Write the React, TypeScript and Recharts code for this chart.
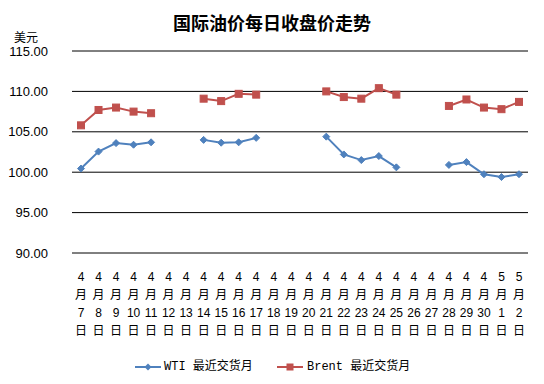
import React from 'react';
import { LineChart, Line, XAxis, YAxis, CartesianGrid } from 'recharts';

const months = ['4','4','4','4','4','4','4','4','4','4','4','4','4','4','4','4','4','4','4','4','4','4','4','4','5','5'];
const days = ['7','8','9','10','11','12','13','14','15','16','17','18','19','20','21','22','23','24','25','26','27','28','29','30','1','2'];
const wti: (number | null)[] = [100.45, 102.55, 103.6, 103.4, 103.7, null, null, 104.0, 103.65, 103.7, 104.25, null, null, null, 104.4, 102.2, 101.5, 102.0, 100.6, null, null, 100.9, 101.25, 99.75, 99.4, 99.75];
const brent: (number | null)[] = [105.8, 107.7, 108.0, 107.5, 107.3, null, null, 109.1, 108.8, 109.7, 109.6, null, null, null, 110.0, 109.3, 109.1, 110.4, 109.6, null, null, 108.2, 109.0, 108.0, 107.8, 108.7];
const yTicks = [90, 95, 100, 105, 110, 115];

const data = days.map((d, i) => ({
  name: `${months[i]}月${d}日`,
  m: months[i],
  d,
  wti: wti[i],
  brent: brent[i],
}));

const XTick = (props: any) => {
  const { x, y, payload } = props;
  const item = data[payload.index] || data.find((r) => r.name === payload.value);
  const lines = [item?.m ?? '', '月', item?.d ?? '', '日'];
  return (
    <g transform={`translate(${x},${y})`}>
      {lines.map((t, i) => (
        <text key={i} x={0} y={18 + i * 18} textAnchor="middle" dominantBaseline="central" fontSize={12} fill="#000" fontFamily="'Liberation Sans', 'Noto Sans CJK SC', sans-serif">
          {t}
        </text>
      ))}
    </g>
  );
};

const Diamond = (props: any) => {
  const { cx, cy } = props;
  if (cx == null || cy == null || props.value == null) return null;
  const s = 3.5;
  return <path d={`M${cx},${cy - s}L${cx + s},${cy}L${cx},${cy + s}L${cx - s},${cy}Z`} fill="#4F81BD" stroke="#4F81BD" />;
};

const Square = (props: any) => {
  const { cx, cy } = props;
  if (cx == null || cy == null || props.value == null) return null;
  const s = 3.5;
  return <rect x={cx - s} y={cy - s} width={2 * s} height={2 * s} fill="#C0504D" stroke="#C0504D" />;
};

export default function App() {
  return (
    <div style={{ position: 'absolute', left: 0, top: 0, width: 544, height: 384, background: '#fff', fontFamily: "'Liberation Sans', 'Noto Sans CJK SC', sans-serif" }}>
      <div style={{ position: 'absolute', left: 0, width: 544, top: 11, textAlign: 'center', fontSize: 18, fontWeight: 'bold', lineHeight: '22px', fontFamily: "'Noto Sans CJK SC', sans-serif" }}>
        国际油价每日收盘价走势
      </div>
      <div style={{ position: 'absolute', left: 14, top: 29, fontSize: 12, lineHeight: '16px', fontFamily: "'Noto Sans CJK SC', sans-serif" }}>美元</div>
      <LineChart width={544} height={384} data={data} margin={{ top: 51, right: 16, left: 0, bottom: 121 }}>
        <CartesianGrid vertical={false} stroke="#000" strokeWidth={1} />
        <XAxis dataKey="name" axisLine={false} tickLine={false} interval={0} height={10} tick={<XTick />} tickMargin={0} padding={{ left: 9, right: 9 }} />
        <YAxis domain={[90, 115]} ticks={yTicks} width={72} axisLine={false} tickLine={false} tickMargin={18} tickFormatter={(v: number) => v.toFixed(2)} tick={{ fontSize: 13, fill: '#000', fontFamily: "'Liberation Sans', sans-serif" }} />
        <Line type="linear" dataKey="wti" stroke="#4F81BD" strokeWidth={2} dot={<Diamond />} activeDot={false} isAnimationActive={false} connectNulls={false} />
        <Line type="linear" dataKey="brent" stroke="#C0504D" strokeWidth={2} dot={<Square />} activeDot={false} isAnimationActive={false} connectNulls={false} />
      </LineChart>
      <div style={{ position: 'absolute', top: 359, left: 0, width: 544, height: 16, fontSize: 12, lineHeight: '16px', fontFamily: "'Liberation Mono', 'Noto Sans CJK SC', monospace" }}>
        <svg style={{ position: 'absolute', left: 135, top: 0 }} width={26} height={16}>
          <line x1={0} y1={8} x2={26} y2={8} stroke="#4F81BD" strokeWidth={2} />
          <path d="M13,4.5L16.5,8L13,11.5L9.5,8Z" fill="#4F81BD" />
        </svg>
        <span style={{ position: 'absolute', left: 164, top: 0, whiteSpace: 'nowrap' }}>WTI 最近交货月</span>
        <svg style={{ position: 'absolute', left: 277, top: 0 }} width={26} height={16}>
          <line x1={0} y1={8} x2={26} y2={8} stroke="#C0504D" strokeWidth={2} />
          <rect x={9.5} y={4.5} width={7} height={7} fill="#C0504D" />
        </svg>
        <span style={{ position: 'absolute', left: 307, top: 0, whiteSpace: 'nowrap' }}>Brent 最近交货月</span>
      </div>
    </div>
  );
}
